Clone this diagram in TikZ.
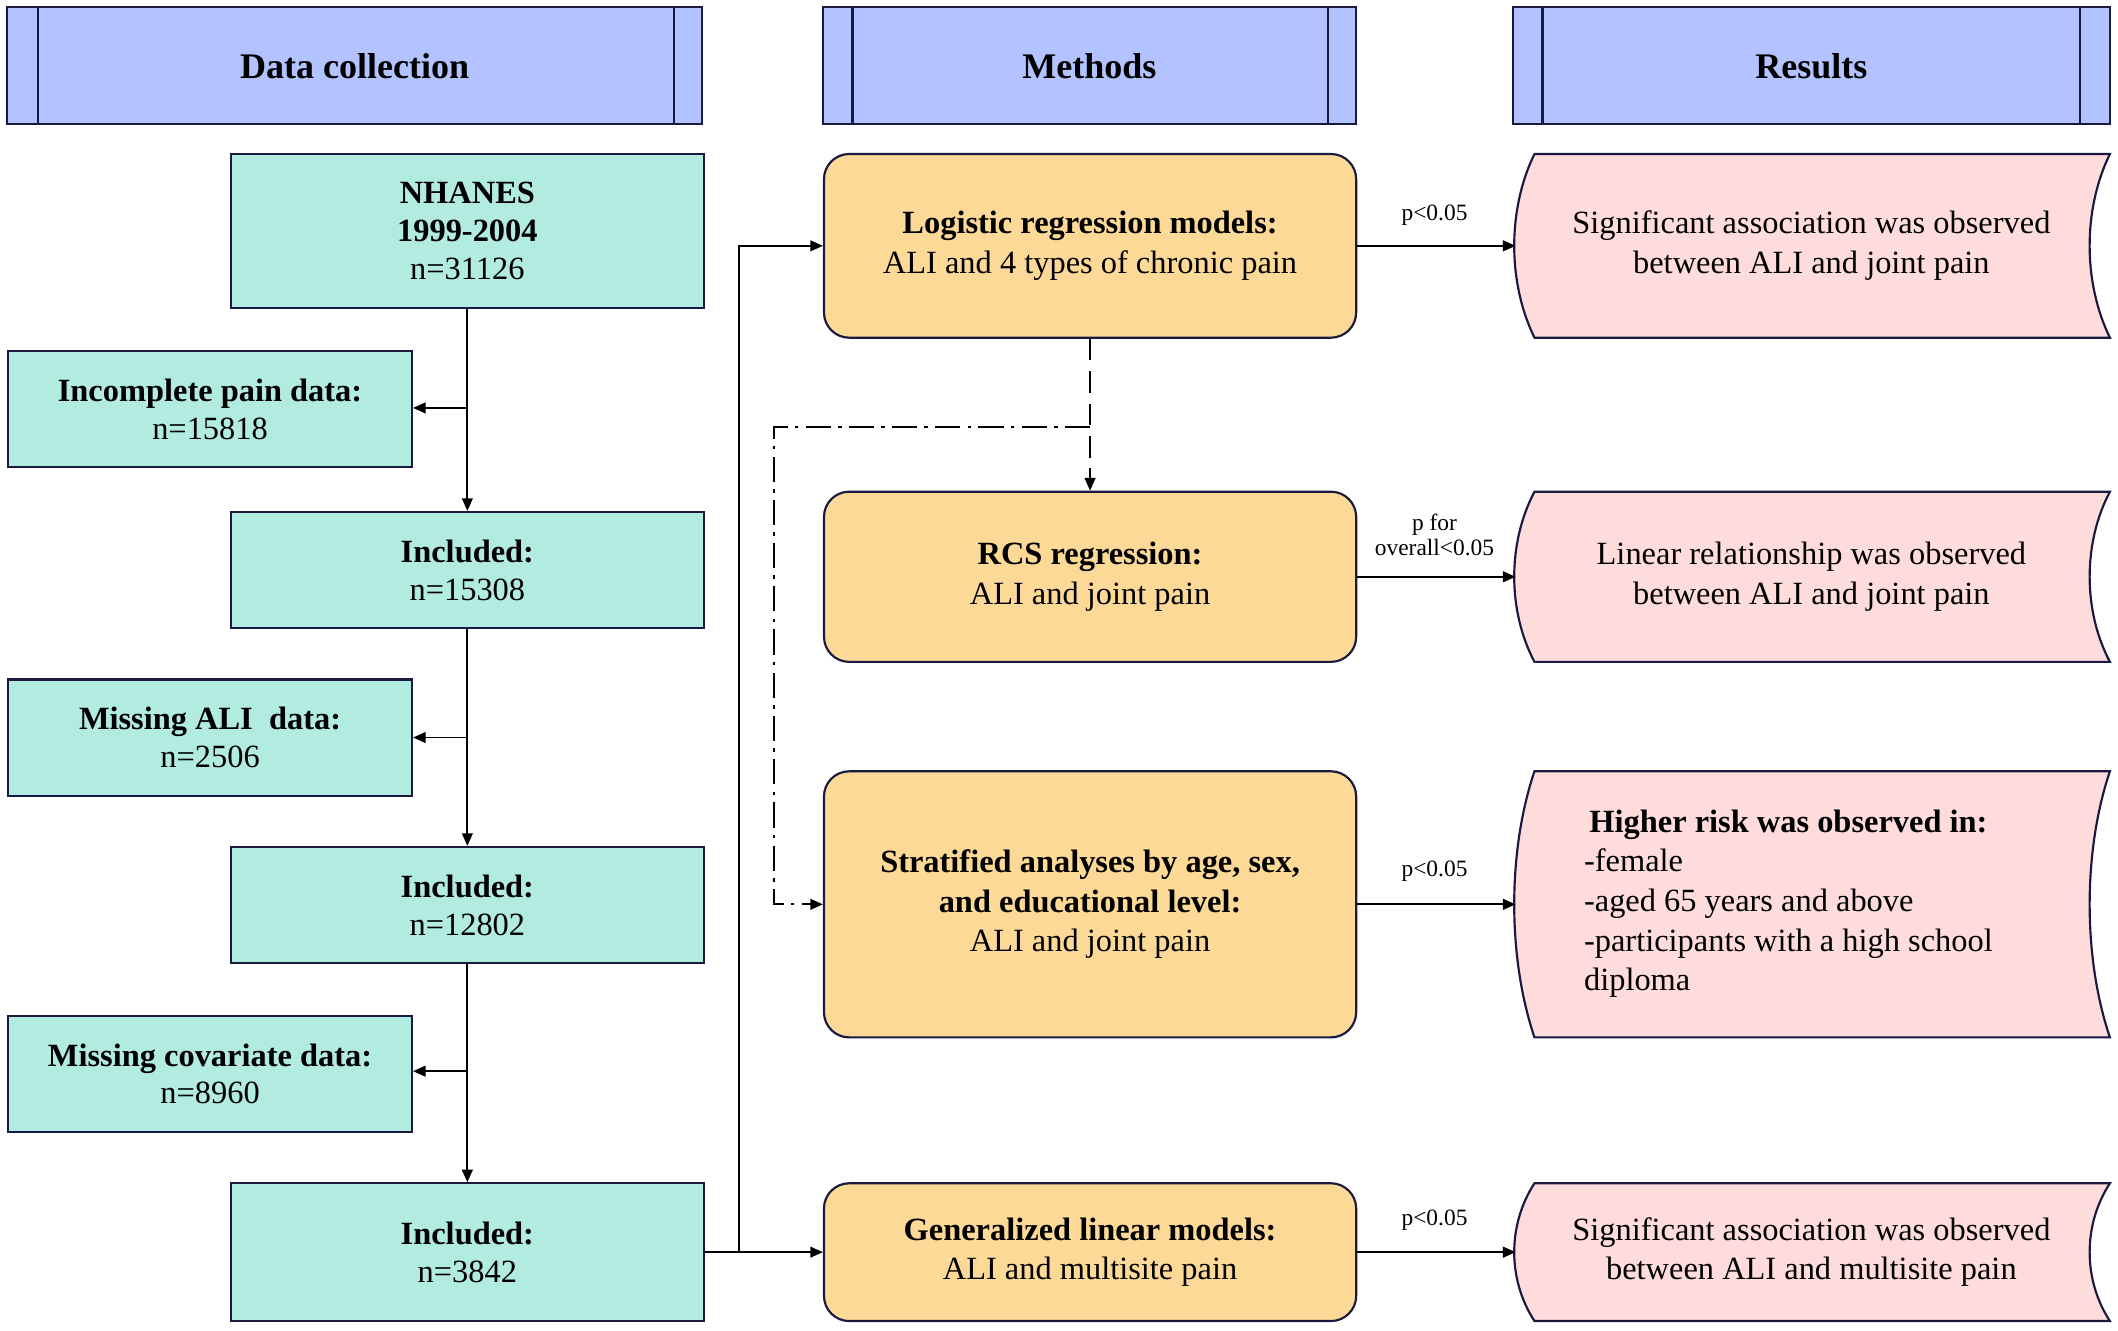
\documentclass[tikz,border=0pt]{standalone}
\usepackage{fontspec}
\setmainfont{Liberation Serif}
\usetikzlibrary{arrows.meta}
\definecolor{hdr}{HTML}{B3C3FF}
\definecolor{teal}{HTML}{B2EBE0}
\definecolor{org}{HTML}{FDD997}
\definecolor{pnk}{HTML}{FFDCDC}
\definecolor{bd}{HTML}{1A1A40}
\tikzset{
 bx/.style={draw=bd,line width=1.2pt,fill=teal,font=\fontsize{18}{21}\selectfont,align=center,inner sep=0},
 mt/.style={draw=bd,line width=1.2pt,fill=org,rounded corners=14pt,font=\fontsize{18}{22}\selectfont,align=center,inner sep=0},
 rs/.style={draw=bd,line width=1.2pt,fill=pnk},
 hd/.style={draw=bd,line width=1.2pt,fill=hdr},
 ar/.style={-{Triangle[length=7pt,width=6pt]},line width=1pt,black},
 lb/.style={font=\fontsize{13}{14}\selectfont,align=center}
}
\begin{document}
\begin{tikzpicture}[x=0.75pt,y=-0.75pt]
\useasboundingbox (0,0) rectangle (1568,985);
% headers
\foreach \a/\b/\c/\d/\t/\n in {5/520/28/499/Data collection/h1,609/1004/631/983/Methods/h2,1120/1562/1142/1540/Results/h3}{
 \draw[hd] (\a,5) rectangle (\b,92);
 \draw[bd,line width=1.4pt] (\c,5)--(\c,92) (\d,5)--(\d,92);
 \node[font=\bfseries\fontsize{20}{24}\selectfont] (\n) at ({(\a+\b)/2},49) {\t};
}
% left column
\node[bx,minimum width=350*0.75pt,minimum height=114*0.75pt] (nh) at (346,171) {\textbf{NHANES}\\\textbf{1999-2004}\\n=31126};
\node[bx,minimum width=299*0.75pt,minimum height=86*0.75pt] (m1) at (155.5,303) {\textbf{Incomplete pain data:}\\n=15818};
\node[bx,minimum width=350*0.75pt,minimum height=86*0.75pt] (i1) at (346,422) {\textbf{Included:}\\n=15308};
\node[bx,minimum width=299*0.75pt,minimum height=86*0.75pt] (m2) at (155.5,546) {\textbf{Missing ALI\ \ data:}\\n=2506};
\node[bx,minimum width=350*0.75pt,minimum height=86*0.75pt] (i2) at (346,670) {\textbf{Included:}\\n=12802};
\node[bx,minimum width=299*0.75pt,minimum height=86*0.75pt] (m3) at (155.5,795) {\textbf{Missing covariate data:}\\n=8960};
\node[bx,minimum width=350*0.75pt,minimum height=102*0.75pt] (i3) at (346,927) {\textbf{Included:}\\n=3842};
\draw[ar] (nh.south)--(i1.north);
\draw[ar] (i1.south)--(i2.north);
\draw[ar] (i2.south)--(i3.north);
\coordinate (c1) at (346,302); \coordinate (c2) at (346,546); \coordinate (c3) at (346,793);
\draw[ar] (c1)--(c1-|m1.east);
\draw[ar] (c2)--(c2-|m2.east);
\draw[ar] (c3)--(c3-|m3.east);
% methods
\node[mt,minimum width=394*0.75pt,minimum height=136*0.75pt] (lo) at (807,182) {\textbf{Logistic regression models:}\\ALI and 4 types of chronic pain};
\node[mt,minimum width=394*0.75pt,minimum height=126*0.75pt] (rc) at (807,427) {\textbf{RCS regression:}\\ALI and joint pain};
\node[mt,minimum width=394*0.75pt,minimum height=197*0.75pt] (st) at (807,669.5) {\textbf{Stratified analyses by age, sex,}\\\textbf{and educational level:}\\ALI and joint pain};
\node[mt,minimum width=394*0.75pt,minimum height=102*0.75pt] (gl) at (807,927) {\textbf{Generalized linear models:}\\ALI and multisite pain};
\draw[ar] (i3.east)--(gl.west);
\coordinate (br) at (547,927);
\draw[ar] (br)|-(lo.west);
\draw[ar,dashed,dash pattern=on 12pt off 6pt] (lo.south)--(rc.north);
\coordinate (d1) at (807,316); \coordinate (d2) at (573,316);
\draw[ar,dash pattern=on 14pt off 4pt on 2pt off 4pt] (d1)--(d2)|-(st.west);
% results
\foreach \t/\b/\n/\m in {114/250/r1/lo,364/490/r2/rc,571/768/r3/st,876/978/r4/gl}{
 \draw[rs] (1136,\t)--(1562,\t) .. controls (1542,{(\t+\b)/2-(\b-\t)*0.2}) and (1542,{(\t+\b)/2+(\b-\t)*0.2}) .. (1562,\b)
   --(1136,\b) .. controls (1116,{(\t+\b)/2+(\b-\t)*0.2}) and (1116,{(\t+\b)/2-(\b-\t)*0.2}) .. cycle;
 \coordinate (\n) at (1122,{(\t+\b)/2});
}
\node[font=\fontsize{18}{22}\selectfont,align=center] (t1) at (1341,182) {Significant association was observed\\between ALI and joint pain};
\node[font=\fontsize{18}{22}\selectfont,align=center] (t2) at (1341,427) {Linear relationship was observed\\between ALI and joint pain};
\node[font=\fontsize{18}{22}\selectfont,align=left,anchor=west] (t3) at (1168,669) {\hspace*{0pt}\,\textbf{Higher risk was observed in:}\\-female\\-aged 65 years and above\\-participants with a high school\\diploma};
\node[font=\fontsize{18}{22}\selectfont,align=center] (t4) at (1341,927) {Significant association was observed\\between ALI and multisite pain};
\draw[ar] (lo.east)--(r1);
\draw[ar] (rc.east)--(r2);
\draw[ar] (st.east)--(r3);
\draw[ar] (gl.east)--(r4);
\node[lb] (p1) at (1062,159) {p<0.05};
\node[lb] (p2) at (1062,396) {p for\\overall<0.05};
\node[lb] (p3) at (1062,645) {p<0.05};
\node[lb] (p4) at (1062,903) {p<0.05};
\end{tikzpicture}
\end{document}
